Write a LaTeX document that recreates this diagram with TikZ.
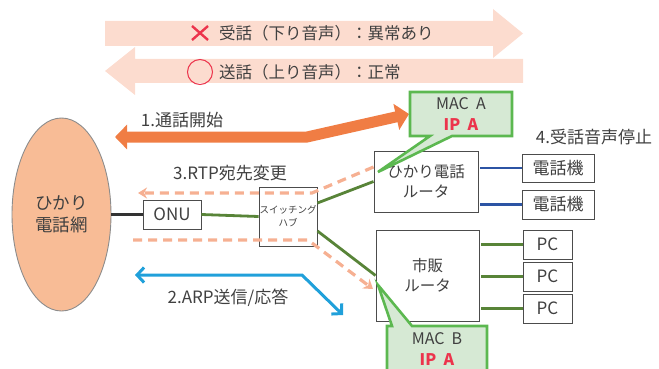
\documentclass[tikz,border=0pt]{standalone}
\usepackage{fontspec}
\setmainfont{Noto Sans CJK JP}
\usetikzlibrary{arrows.meta,shapes.geometric}
\definecolor{pale}{RGB}{252,220,207}
\definecolor{peach}{RGB}{248,188,150}
\definecolor{orangearr}{RGB}{240,125,68}
\definecolor{dashc}{RGB}{246,176,146}
\definecolor{bluearr}{RGB}{32,160,218}
\definecolor{darkblue}{RGB}{44,84,164}
\definecolor{greenl}{RGB}{88,132,56}
\definecolor{callfill}{RGB}{214,233,212}
\definecolor{callborder}{RGB}{92,184,80}
\definecolor{txt}{RGB}{64,64,64}
\definecolor{redmark}{RGB}{236,52,76}
\tikzset{
  box/.style={draw=black!70, line width=0.9pt, fill=white, inner sep=0pt, align=center, text=txt},
  lbl/.style={inner sep=0pt, text=txt, font=\fontsize{17}{20}\selectfont},
  greenline/.style={draw=greenl, line width=2.8pt},
  blueline/.style={draw=darkblue, line width=2.8pt},
  rtp/.style={draw=dashc, line width=3.2pt, dash pattern=on 9pt off 6pt},
  callout/.style={fill=callfill, draw=callborder, line width=2.6pt, line join=miter},
}
\begin{document}
\begin{tikzpicture}[x=1pt,y=-1pt]
\useasboundingbox (0,0) rectangle (659,369);
\clip (0,0) rectangle (659,369);
% big pale arrows
\fill[pale] (105,21) -- (493,21) -- (493,9) -- (523,33.5) -- (493,58) -- (493,46) -- (105,46) -- cycle;
\fill[pale] (523,59) -- (135,59) -- (135,47) -- (105,71) -- (135,95) -- (135,83) -- (523,83) -- cycle;
\draw[redmark, line width=2.4pt] (192,26) -- (208,40) (208,26) -- (192,40);
\draw[redmark, line width=1pt] (200,72) circle (12.5);
\node[lbl, anchor=west, font=\fontsize{16.5}{20}\selectfont] (recv) at (219,33.5) {受話（下り音声）：異常あり};
\node[lbl, anchor=west, font=\fontsize{16.5}{20}\selectfont] (send) at (219,72) {送話（上り音声）：正常};

% nodes
\node[ellipse, draw=black!45, line width=0.9pt, fill=peach, minimum width=99pt, minimum height=193pt, inner sep=0pt, align=center, text=txt, font=\fontsize{17.5}{22}\selectfont] (net) at (61.5,214.5) {ひかり\\電話網};
\node[box, minimum width=58pt, minimum height=29pt, font=\fontsize{17}{20}\selectfont] (onu) at (172,214.5) {ONU};
\node[box, minimum width=58pt, minimum height=59pt, font=\fontsize{9.5}{13}\selectfont] (hub) at (288,216.5) {スイッチング\\ハブ};
\node[box, minimum width=104pt, minimum height=61pt, font=\fontsize{15.5}{20}\selectfont] (hr) at (426,181.5) {ひかり電話\\ルータ};
\node[box, minimum width=103pt, minimum height=91pt, font=\fontsize{15.5}{20}\selectfont] (sr) at (427.5,275.5) {市販\\ルータ};
\node[box, minimum width=72pt, minimum height=28pt, font=\fontsize{17}{20}\selectfont] (ph1) at (558,168) {電話機};
\node[box, minimum width=72pt, minimum height=29pt, font=\fontsize{17}{20}\selectfont] (ph2) at (558,204.5) {電話機};
\node[box, minimum width=49pt, minimum height=29pt, font=\fontsize{17}{20}\selectfont] (pc1) at (547.5,244.5) {PC};
\node[box, minimum width=49pt, minimum height=29pt, font=\fontsize{17}{20}\selectfont] (pc2) at (547.5,276.5) {PC};
\node[box, minimum width=49pt, minimum height=29pt, font=\fontsize{17}{20}\selectfont] (pc3) at (547.5,308.5) {PC};

% wiring
\draw[draw=black!80, line width=2.6pt] (net.east) -- (onu.west);
\draw[greenline] (onu.east) -- (hub.west);
\draw[greenline] ([yshift=13.5pt]hub.east) -- (hr.west);
\draw[greenline] ([yshift=-14.5pt]hub.east) -- (sr.west);
\draw[blueline] ([xshift=2pt]hr.east |- ph1.west) -- (ph1.west);
\draw[blueline] ([xshift=2pt]hr.east |- ph2.west) -- (ph2.west);
\draw[greenline] ([xshift=2pt]sr.east |- pc1.west) -- (pc1.west);
\draw[greenline] ([xshift=2pt]sr.east |- pc2.west) -- (pc2.west);
\draw[greenline] ([xshift=2pt]sr.east |- pc3.west) -- (pc3.west);

% 3. RTP dashed
\coordinate (rtpend) at (138,193);
\coordinate (rtpstart) at (133,240);
\draw[rtp, -{Stealth[length=9pt,width=11pt]}] (hr.west |- 0,167) -- (312,193) -- (rtpend);
\draw[rtp, -{Stealth[length=9pt,width=12pt]}] (rtpstart) -- (308,240) -- (373,289);

% 1. orange thick arrow
\coordinate (o1) at (115,137);
\coordinate (o2) at (409,114);
\draw[orangearr, line width=11pt, {Triangle[length=12pt,width=24pt]}-{Triangle[length=13pt,width=26pt]}] (o1) -- (307,137) -- (o2);

% 2. blue ARP arrow
\coordinate (b1) at (135,275);
\coordinate (b2) at (343,315);
\draw[bluearr, line width=3pt, {Straight Barb[length=7pt,width=15pt]}-{Straight Barb[length=7pt,width=15pt]}] (b1) -- (302,275) -- (b2);

% labels
\node[lbl] (l1) at (182,120) {1.通話開始};
\node[lbl] (l3) at (230,173) {3.RTP宛先変更};
\node[lbl] (l2) at (228,298) {2.ARP送信/応答};
\node[lbl] (l4) at (594,137) {4.受話音声停止};

% callouts
\draw[callout] (410,92) -- (512,92) -- (512,136) -- (452,136) -- (378,172) -- (430,136) -- (410,136) -- cycle;
\node[inner sep=0pt, align=center, text=txt, font=\fontsize{16}{21}\selectfont] (maca) at (461,114) {MAC\ \ A\\\textcolor{redmark}{\textbf{IP\ \ A}}};
\draw[callout] (392,326) -- (378,285) -- (412,326) -- (487,326) -- (487,385) -- (387,385) -- (387,326) -- cycle;
\node[inner sep=0pt, align=center, text=txt, font=\fontsize{16}{21}\selectfont] (macb) at (437,349) {MAC\ \ B\\\textcolor{redmark}{\textbf{IP\ \ A}}};
\end{tikzpicture}
\end{document}
